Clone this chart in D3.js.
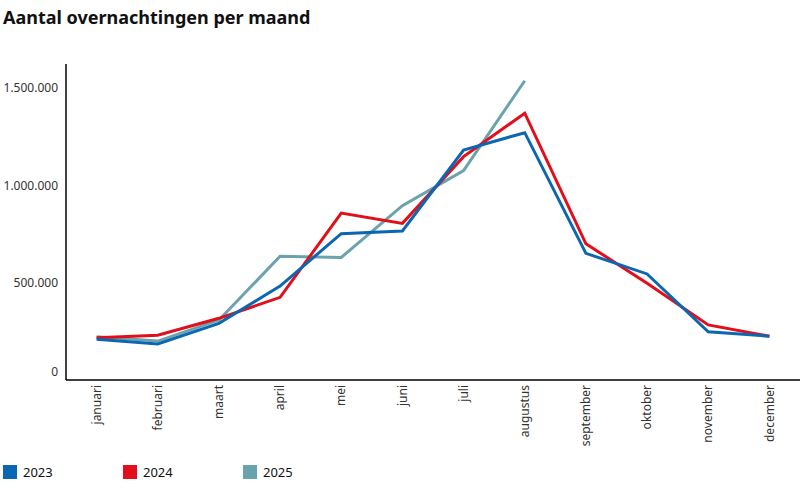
<!DOCTYPE html>
<html>
<head lang="nl">
    <meta charset="UTF-8">
    <title>Aantal overnachtingen per maand</title>
    <style>
        body { margin: 0; background: #fff; }
        svg text { font-family: "Noto Sans", "Open Sans", sans-serif; }
    </style>
</head>
<body>
<div id="chart"></div>
<script src="https://cdnjs.cloudflare.com/ajax/libs/d3/7.8.5/d3.min.js"></script>
<script>
// maanden en waarden
var months = ["januari", "februari", "maart", "april", "mei", "juni",
              "juli", "augustus", "september", "oktober", "november", "december"];
var years = ["2023", "2024", "2025"];
var colors = ["#0b67b2", "#e20e1a", "#6aa3ad"];
var values2023 = [210000, 185000, 291000, 483000, 752000, 766000, 1182000, 1271000, 651000, 545000, 248000, 225000];
var values2024 = [217000, 230000, 317000, 425000, 858000, 805000, 1148000, 1371000, 700000, 497000, 283000, 225000];
var values2025 = [222000, 200000, 308000, 636000, 630000, 896000, 1076000, 1538000];
var yTicks = [0, 500000, 1000000, 1500000];

var series = [values2023, values2024, values2025];

var width = 800, height = 500;
var margin = {top: 64, right: 0, bottom: 120, left: 66};

var nl = d3.formatLocale({decimal: ",", thousands: ".", grouping: [3], currency: ["€", ""]});
var fmt = nl.format(",d");

var svg = d3.select("#chart").append("svg")
    .attr("width", width)
    .attr("height", height);

svg.append("text")
    .attr("x", 3)
    .attr("y", 24)
    .attr("font-size", "18px")
    .attr("font-weight", "bold")
    .attr("fill", "#111")
    .text("Aantal overnachtingen per maand");

var x = d3.scalePoint()
    .domain(months)
    .range([margin.left, width - margin.right])
    .padding(0.5);

var y = d3.scaleLinear()
    .domain([0, 1624000])
    .range([height - margin.bottom, margin.top]);

// y labels
svg.append("g")
    .selectAll("text")
    .data(yTicks)
    .enter().append("text")
    .attr("x", 58)
    .attr("y", function (d) { return d === 0 ? y(d) - 8 : y(d); })
    .attr("dy", "0.35em")
    .attr("text-anchor", "end")
    .attr("font-size", "12px")
    .attr("fill", "#333")
    .text(function (d) { return fmt(d); });

// x labels
svg.append("g")
    .selectAll("text")
    .data(months)
    .enter().append("text")
    .attr("transform", function (d) {
        return "translate(" + x(d) + "," + (height - margin.bottom + 5) + ") rotate(-90)";
    })
    .attr("dy", "0.35em")
    .attr("text-anchor", "end")
    .attr("font-size", "12px")
    .attr("fill", "#333")
    .text(function (d) { return d; });

// lines
var line = d3.line()
    .x(function (d, i) { return x(months[i]); })
    .y(function (d) { return y(d); });

[2, 1, 0].forEach(function (k) {
    svg.append("path")
        .datum(series[k])
        .attr("fill", "none")
        .attr("stroke", colors[k])
        .attr("stroke-width", 3)
        .attr("stroke-linejoin", "miter")
        .attr("d", line);
});

// axis lines
svg.append("line")
    .attr("x1", margin.left).attr("x2", margin.left)
    .attr("y1", margin.top).attr("y2", height - margin.bottom)
    .attr("stroke", "#000").attr("stroke-width", 1.5);
svg.append("line")
    .attr("x1", margin.left).attr("x2", width)
    .attr("y1", height - margin.bottom).attr("y2", height - margin.bottom)
    .attr("stroke", "#000").attr("stroke-width", 1.5);

// legend
var legend = svg.append("g")
    .selectAll("g")
    .data(years)
    .enter().append("g")
    .attr("transform", function (d, i) { return "translate(" + (3 + i * 120) + ",465)"; });
legend.append("rect")
    .attr("width", 14).attr("height", 14)
    .attr("fill", function (d, i) { return colors[i]; });
legend.append("text")
    .attr("x", 20).attr("y", 7)
    .attr("dy", "0.35em")
    .attr("font-size", "13px")
    .attr("fill", "#111")
    .text(function (d) { return d; });
</script>
</body>
</html>
